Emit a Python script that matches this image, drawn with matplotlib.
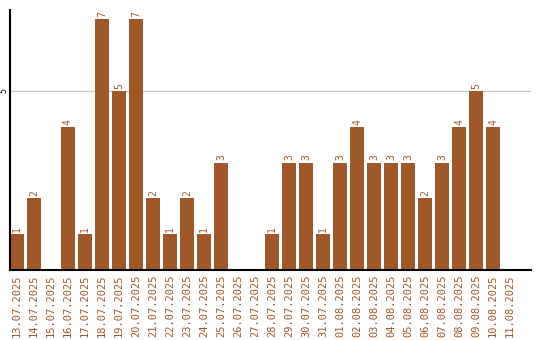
import matplotlib
matplotlib.use("Agg")
import matplotlib.pyplot as plt
import numpy as np

dates = ["13.07.2025", "14.07.2025", "15.07.2025", "16.07.2025", "17.07.2025",
         "18.07.2025", "19.07.2025", "20.07.2025", "21.07.2025", "22.07.2025",
         "23.07.2025", "24.07.2025", "25.07.2025", "26.07.2025", "27.07.2025",
         "28.07.2025", "29.07.2025", "30.07.2025", "31.07.2025", "01.08.2025",
         "02.08.2025", "03.08.2025", "04.08.2025", "05.08.2025", "06.08.2025",
         "07.08.2025", "08.08.2025", "09.08.2025", "10.08.2025", "11.08.2025"]
counts = [1, 2, 0, 4, 1, 7, 5, 7, 2, 1, 2, 1, 3, 0, 0,
          1, 3, 3, 1, 3, 4, 3, 3, 3, 2, 3, 4, 5, 4, 0]

brown = "#a0572a"
W, H = 540, 340

fig = plt.figure(figsize=(W / 100, H / 100), dpi=100)
ax = fig.add_axes([10 / W, 70 / H, 521 / W, 260 / H])

x = np.arange(len(dates))
ax.bar(x, counts, width=0.82, color=brown, zorder=2)

for xi, c in zip(x, counts):
    if c > 0:
        ax.text(xi, c + 0.06, str(c), rotation=90, ha="center", va="bottom",
                fontsize=7, family="DejaVu Sans Mono", color=brown)

ax.set_xlim(-0.41, 30.23)
ax.set_ylim(0, 7.26)
ax.axhline(5, color="#c8c8c8", lw=1, zorder=1)

ax.set_xticks(x)
ax.set_xticklabels(dates, rotation=90, fontsize=7.5, family="DejaVu Sans Mono",
                   color=brown)
ax.tick_params(axis="x", length=0, pad=3)
ax.set_yticks([5])
ax.set_yticklabels(["5"], rotation=90, fontsize=6, family="DejaVu Sans Mono",
                   va="center", ha="right")
ax.tick_params(axis="y", length=0, pad=1)

for s in ["top", "right"]:
    ax.spines[s].set_visible(False)
ax.spines["left"].set_linewidth(1.5)
ax.spines["bottom"].set_linewidth(1.5)

fig.savefig("out.png", dpi=100)
